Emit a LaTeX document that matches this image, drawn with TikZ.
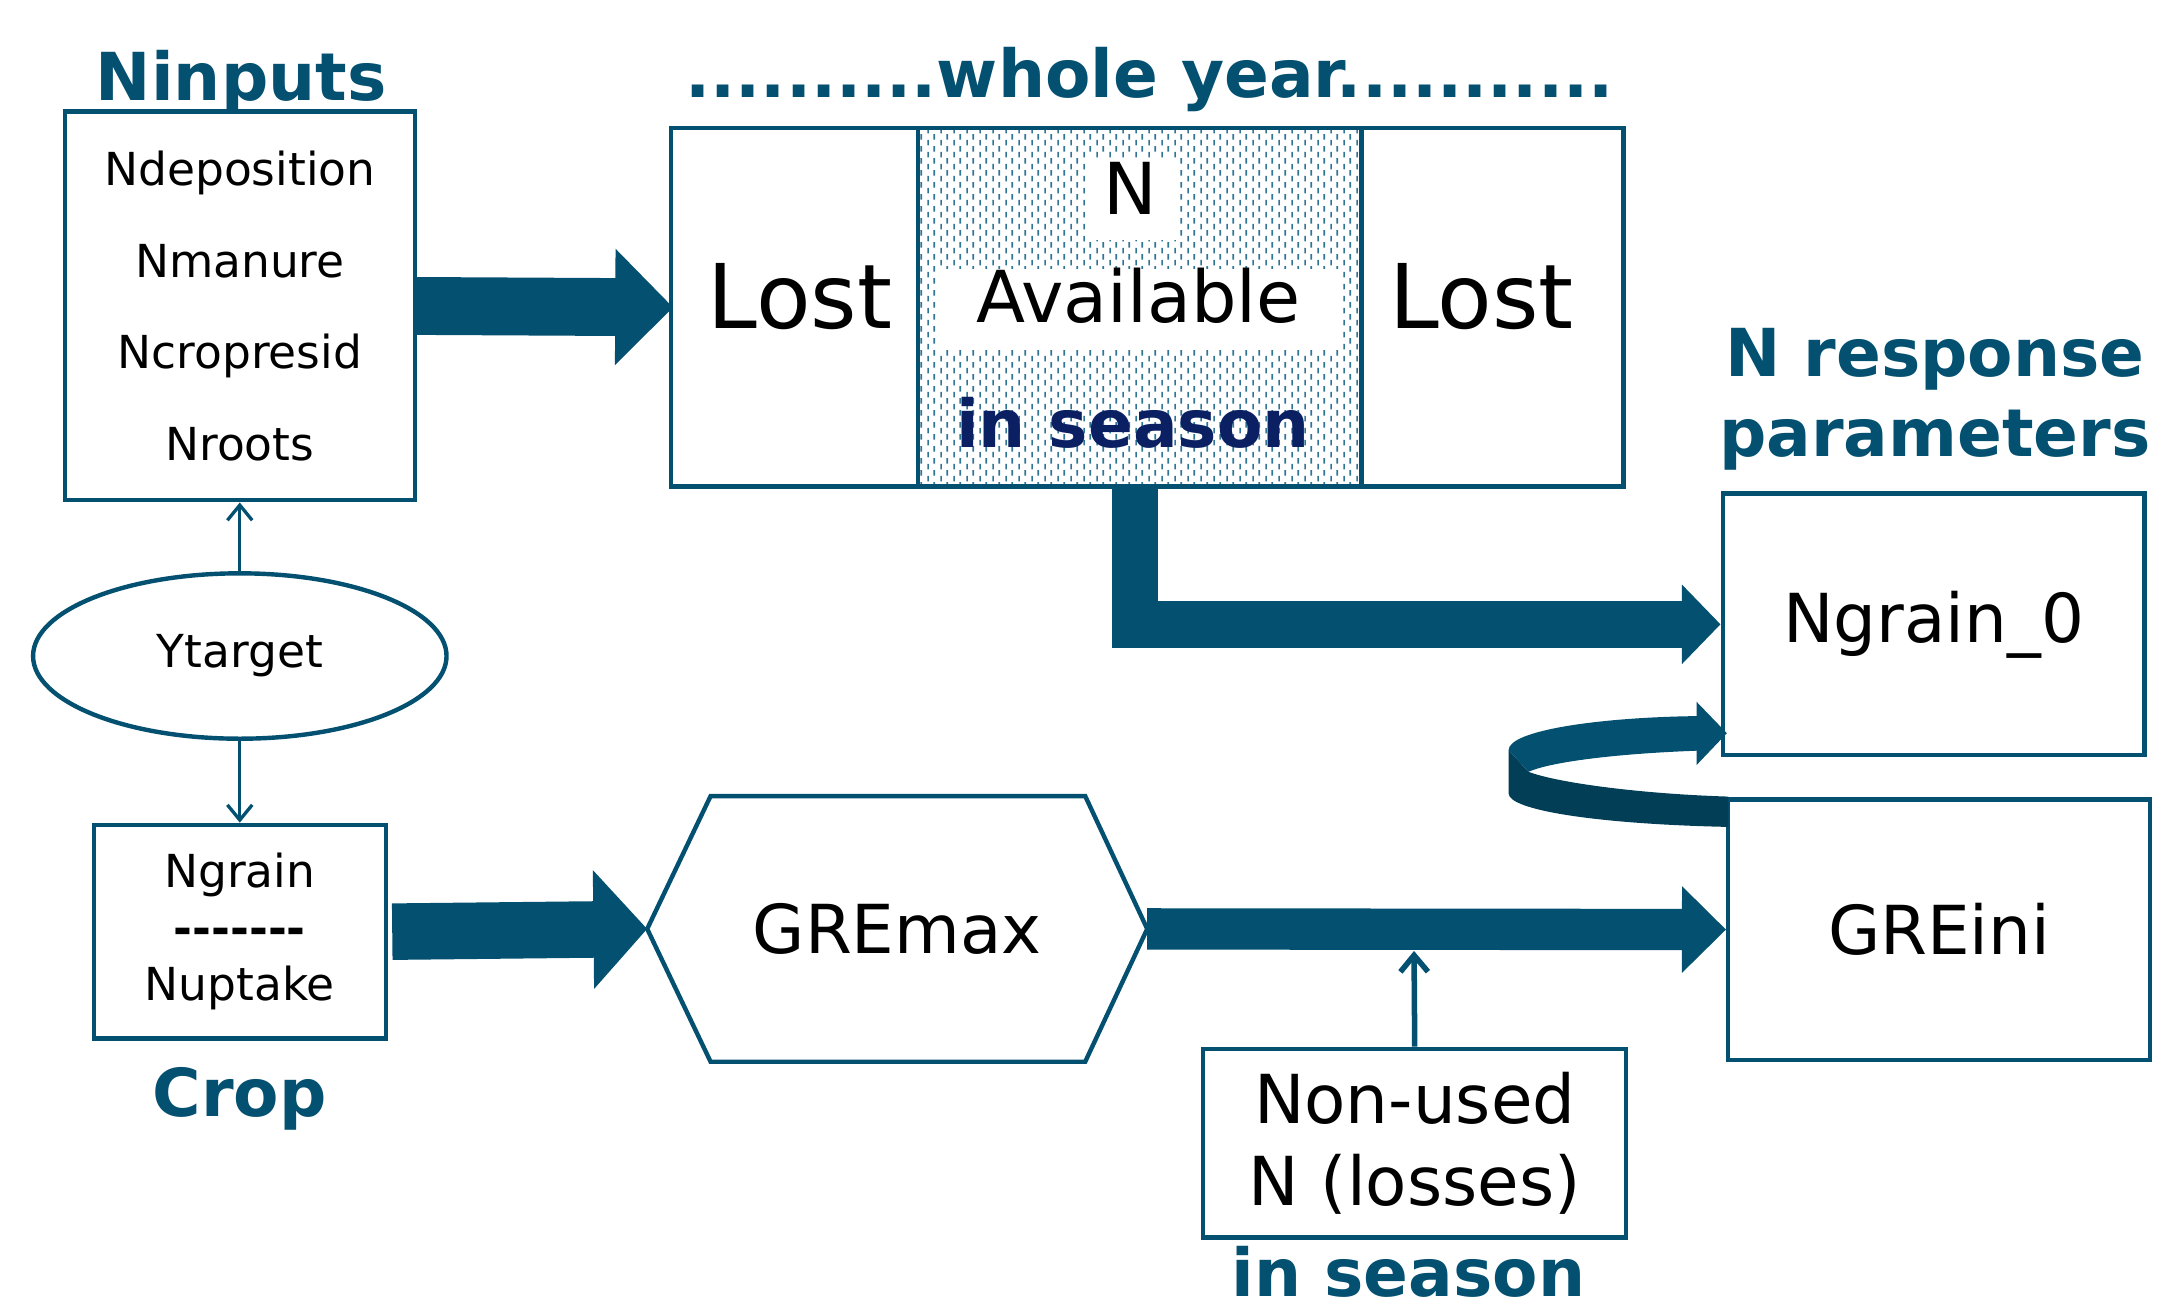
\documentclass[tikz,border=0pt]{standalone}
\usepackage{fontspec}
\setmainfont{DejaVu Sans}
\usetikzlibrary{arrows.meta,patterns.meta,shapes.geometric}
\definecolor{teal1}{HTML}{035070}
\definecolor{teal2}{HTML}{023F57}
\definecolor{navy1}{HTML}{0B2063}
\definecolor{hatch}{HTML}{2F7596}
\tikzdeclarepattern{
  name=vdash,
  type=uncolored,
  bounding box={(0pt,0pt) and (4.6pt,4.5pt)},
  tile size={(4.6pt,4.5pt)},
  code={
    \draw[line width=0.6pt] (1.15pt,0.2pt) -- (1.15pt,2.3pt);
    \draw[line width=0.6pt] (3.45pt,2.45pt) -- (3.45pt,4.5pt);
  }
}
\begin{document}
\begin{tikzpicture}[x=0.5pt,y=-0.5pt,
  box/.style={draw=teal1, line width=1.6pt, rectangle, inner sep=0pt, align=center},
  sm/.style={font=\fontsize{16.5}{20.5}\selectfont},
  md/.style={font=\fontsize{24.5}{29.5}\selectfont},
  ttl/.style={font=\fontsize{24}{29}\selectfont\bfseries, text=teal1, inner sep=0pt},
  thinarrow/.style={draw=teal1, line width=1.2pt, -{Straight Barb[length=5.5pt,width=9pt]}},
  fatarrow/.style n args={3}{draw=teal1, line width=#1, -{Triangle[width=#2,length=#3]}},
]
\useasboundingbox (0,0) rectangle (1568,952);
\clip (0,0) rectangle (1568,952);

% titles
\node[ttl, anchor=base] (tninputs) at (175,73) {Ninputs};
\node[ttl, anchor=base] (twhole) at (834,71) {..........whole year...........};
\node[ttl, align=center] (tnresp) at (1404,290) {N response\\parameters};
\node[ttl, anchor=base] (tcrop) at (174,810) {Crop};
\node[ttl, anchor=base] (tseason) at (1022,941) {in season};

% N inputs box
\node[box, minimum width=127pt, minimum height=141pt, font=\fontsize{16.5}{33.3}\selectfont] (ninputs) at (174,222)
  {Ndeposition\\Nmanure\\Ncropresid\\Nroots};

% whole year box
\node[box, minimum width=89.5pt, minimum height=130pt] (lostL) at (576.5,223) {};
\node[box, minimum width=161pt, minimum height=130pt, pattern={vdash}, pattern color=hatch] (midsec) at (827,223) {};
\node[box, minimum width=95pt, minimum height=130pt] (lostR) at (1083,223) {};
\node[font=\fontsize{32.4}{36}\selectfont, anchor=base, inner sep=0pt] (lost1) at (580.5,238) {Lost};
\node[font=\fontsize{32.4}{36}\selectfont, anchor=base, inner sep=0pt] (lost2) at (1075,238) {Lost};
\node[fill=white, font=\fontsize{26}{30}\selectfont, anchor=base, inner sep=0pt, text height=20.5pt, text depth=9pt, minimum width=33pt] (ntext) at (820,156) {N};
\node[fill=white, font=\fontsize{26}{30}\selectfont, anchor=base, inner sep=0pt, text height=19.5pt, text depth=10pt, minimum width=146pt] (avail) at (826,234) {Available};
\node[font=\fontsize{24}{28}\selectfont\bfseries, text=navy1, anchor=base, inner sep=0pt] (inseason) at (822,325) {in season};

% Ytarget
\node[draw=teal1, line width=1.6pt, ellipse, minimum width=150pt, minimum height=60pt, inner sep=0pt, sm] (ytarget) at (174,476) {\raisebox{-1pt}{Ytarget}};

% crop box
\node[box, sm, minimum width=106pt, minimum height=77.5pt] (cropbox) at (174,676)
  {Ngrain\\\textbf{-{}-{}-{}-{}-{}-{}-}\\Nuptake};

% GREmax hexagon
\node[minimum width=181pt, minimum height=96pt, inner sep=0pt, md] (gremax) at (651,674) {GREmax};
\draw[teal1, line width=1.6pt, line join=miter] (gremax.west) -- ([xshift=23pt]gremax.north west) -- ([xshift=-22.5pt]gremax.north east) -- (gremax.east) -- ([xshift=-22.5pt]gremax.south east) -- ([xshift=23pt]gremax.south west) -- cycle;

% right boxes
\node[box, md, minimum width=153pt, minimum height=95pt] (ngrain0) at (1403,453) {Ngrain\_0};
\node[box, md, minimum width=153pt, minimum height=94.5pt] (greini) at (1407,674.5) {GREini};
\node[box, md, minimum width=153.5pt, minimum height=68.5pt] (nonused) at (1026.5,829.5) {Non-used\\N (losses)};

% curved feedback arrow
\fill[teal2] (1254,578) .. controls (1190,576) and (1130,568) .. (1109,560) -- (1094.6,544.3) -- (1094.6,575.7) .. controls (1094.6,588) and (1160,598) .. (1254,600) -- cycle;
\fill[teal1] (1094.6,544.3) .. controls (1094.6,530) and (1160,520.5) .. (1231,519.6) -- (1231,509.2) -- (1253,532) -- (1231,555.1) -- (1231,544.7) .. controls (1170,547) and (1125,553) .. (1109,560) -- cycle;

% thin arrows
\draw[thinarrow] (ytarget.north) -- (ninputs.south);
\draw[thinarrow] (ytarget.south) -- (cropbox.north);

% fat arrows
\draw[fatarrow={21pt}{41pt}{21pt}] (ninputs.east) -- ([xshift=1.5pt]lostL.west);
\draw[fatarrow={17pt}{28pt}{14pt}, line join=miter] ([xshift=-1.75pt]midsec.south) |- (ngrain0.west);
\draw[fatarrow={20.5pt}{42pt}{19.5pt}] ([xshift=1.5pt]cropbox.east) -- (gremax.west);
\draw[fatarrow={15pt}{30.5pt}{16pt}] (gremax.east) -- (greini.west);

% non-used arrow
\coordinate (shaftbot) at (1026,690);
\draw[draw=teal1, line width=2pt, -{Straight Barb[length=6pt,width=10pt]}] (nonused.north) -- (shaftbot);
\end{tikzpicture}
\end{document}
